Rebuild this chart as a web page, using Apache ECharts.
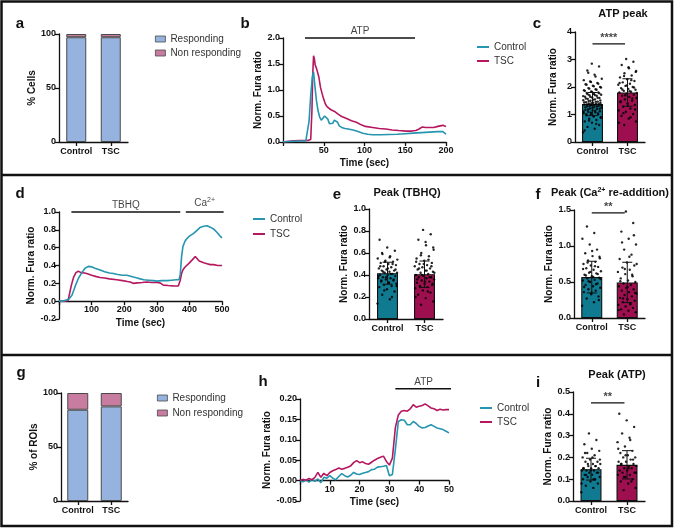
<!DOCTYPE html>
<html>
<head>
<meta charset="utf-8">
<script src="https://cdn.jsdelivr.net/npm/echarts@6/dist/echarts.min.js"></script>
<style>
  html, body { margin: 0; padding: 0; background: #fff; }
  #main { width: 676px; height: 528px; }
</style>
</head>
<body>
<div id="main"></div>
<script>
"use strict";

// ---------- data ----------
var groups = ["Control", "TSC"];

// a / g: % responding
var aResponding = [97, 97];
var aNonResponding = [3, 3];
var gResponding = [84.5, 87.6];
var gNonResponding = [15.5, 12.4];

// b: ATP traces [time (sec), norm. ratio]
var bControl = [[0,0],[5,0.01],[10,0.01],[15,0.015],[20,0.02],[25,0.02],[28,0.02],[30,0.05],[32,0.4],[34,0.9],[36,1.25],[37.5,1.35],[39,1.1],[41,0.8],[43,0.6],[45,0.48],[47,0.42],[49,0.45],[51,0.5],[53,0.52],[55,0.44],[57,0.35],[59,0.33],[61,0.36],[63,0.42],[65,0.44],[67,0.38],[69,0.31],[72,0.28],[76,0.26],[80,0.25],[86,0.23],[92,0.2],[98,0.17],[104,0.15],[110,0.14],[120,0.14],[130,0.145],[140,0.15],[150,0.16],[160,0.17],[170,0.18],[180,0.19],[190,0.2],[196,0.2],[198,0.18],[200,0.15]];
var bTsc = [[0,0],[10,0.02],[20,0.03],[30,0.03],[34,0.05],[35.5,0.6],[36.5,1.3],[37.5,1.66],[38.5,1.6],[39.5,1.48],[41,1.42],[42.5,1.45],[44,1.25],[46,1.05],[48,0.93],[50,0.82],[52,0.73],[54,0.68],[57,0.64],[60,0.61],[64,0.58],[68,0.53],[72,0.49],[78,0.45],[84,0.41],[90,0.38],[96,0.33],[101,0.3],[110,0.28],[118,0.26],[126,0.25],[134,0.23],[142,0.22],[151,0.21],[158,0.21],[163,0.22],[167,0.25],[171,0.29],[175,0.28],[180,0.28],[185,0.28],[190,0.3],[196,0.32],[200,0.3]];

// c: ATP peak
var cMean = [1.38, 1.80];
var cSd = [0.42, 0.5];
var cControlDots = [0.35,0.48,0.55,0.62,0.7,0.75,0.8,0.85,0.9,0.93,0.97,1.0,1.02,1.05,1.08,1.1,1.12,1.15,1.17,1.2,1.22,1.25,1.27,1.3,1.32,1.34,1.36,1.38,1.4,1.42,1.43,1.45,1.47,1.5,1.52,1.55,1.57,1.6,1.62,1.65,1.68,1.7,1.72,1.75,1.78,1.8,1.84,1.88,1.92,1.96,2.0,2.05,2.1,2.15,2.2,2.3,2.45,2.6,2.75,2.85,
  0.42,0.66,0.78,0.88,0.95,1.01,1.04,1.07,1.11,1.14,1.18,1.21,1.24,1.26,1.29,1.31,1.33,1.35,1.37,1.39,1.41,1.44,1.46,1.49,1.51,1.54,1.58,1.61,1.64,1.67,1.71,1.74,1.77,1.82,1.86,1.9,1.94,1.98,2.03,2.08,2.12,2.18,2.25,2.38,2.52];
var cTscDots = [0.62,0.75,0.85,0.95,1.02,1.1,1.15,1.22,1.28,1.35,1.4,1.45,1.5,1.55,1.6,1.64,1.68,1.72,1.76,1.8,1.83,1.86,1.9,1.93,1.96,2.0,2.04,2.08,2.12,2.17,2.22,2.28,2.35,2.42,2.5,2.58,2.68,2.8,2.92,3.02,
  0.7,0.9,1.05,1.18,1.32,1.48,1.58,1.7,1.78,1.85,1.91,1.98,2.06,2.15,2.25,2.4,2.55,2.72];

// d: TBHQ then Ca2+ re-addition
var dControl = [[0,0],[10,0],[20,0.01],[30,0.02],[36,0.03],[40,0.07],[50,0.17],[60,0.26],[70,0.32],[80,0.37],[90,0.39],[100,0.385],[110,0.37],[126,0.35],[140,0.33],[155,0.315],[167,0.31],[180,0.3],[195,0.29],[208,0.29],[220,0.28],[228,0.27],[240,0.26],[249,0.25],[260,0.24],[275,0.235],[290,0.23],[300,0.225],[315,0.23],[331,0.23],[345,0.235],[360,0.24],[368,0.24],[372,0.3],[376,0.5],[380,0.61],[386,0.67],[392,0.7],[400,0.73],[413,0.76],[425,0.8],[434,0.83],[444,0.84],[454,0.845],[464,0.83],[474,0.81],[485,0.77],[494,0.73],[500,0.71]];
var dTsc = [[0,0],[10,0],[20,0],[28,0.01],[31,0.03],[38,0.18],[45,0.27],[52,0.32],[59,0.335],[68,0.32],[78,0.315],[85,0.31],[100,0.29],[115,0.275],[126,0.265],[140,0.26],[155,0.25],[177,0.24],[195,0.23],[210,0.22],[218,0.215],[228,0.2],[240,0.205],[255,0.21],[269,0.215],[285,0.21],[300,0.21],[310,0.205],[316,0.185],[320,0.18],[335,0.175],[350,0.172],[366,0.17],[370,0.18],[372,0.235],[376,0.31],[380,0.35],[386,0.38],[392,0.4],[400,0.43],[408,0.46],[413,0.48],[418,0.5],[424,0.48],[430,0.45],[434,0.44],[444,0.43],[454,0.42],[464,0.41],[474,0.41],[487,0.4],[500,0.4]];

// e: Peak (TBHQ)
var eMean = [0.416, 0.407];
var eSd = [0.1, 0.12];
var eControlDots = [0.14,0.18,0.22,0.25,0.27,0.29,0.3,0.31,0.32,0.33,0.34,0.35,0.36,0.37,0.37,0.38,0.39,0.4,0.4,0.41,0.42,0.42,0.43,0.44,0.44,0.45,0.46,0.47,0.48,0.49,0.5,0.51,0.52,0.53,0.55,0.57,0.59,0.62,0.65,0.72,
  0.2,0.26,0.3,0.33,0.35,0.36,0.38,0.39,0.41,0.43,0.45,0.46,0.48,0.5,0.52,0.54,0.56,0.6];
var eTscDots = [0.13,0.16,0.19,0.22,0.24,0.26,0.28,0.29,0.3,0.31,0.32,0.33,0.34,0.35,0.36,0.37,0.38,0.38,0.39,0.4,0.41,0.42,0.43,0.44,0.45,0.46,0.47,0.48,0.49,0.5,0.51,0.53,0.55,0.57,0.6,0.63,0.67,0.72,0.77,0.81,
  0.2,0.25,0.29,0.32,0.34,0.36,0.38,0.4,0.42,0.44,0.46,0.48,0.5,0.52,0.54,0.58,0.65,0.7];

// f: Peak (Ca2+ re-addition)
var fMean = [0.568, 0.494];
var fSd = [0.22, 0.28];
var fControlDots = [0.17,0.22,0.27,0.3,0.33,0.36,0.38,0.4,0.42,0.44,0.46,0.48,0.5,0.52,0.53,0.55,0.56,0.58,0.6,0.62,0.63,0.65,0.67,0.69,0.71,0.73,0.75,0.78,0.8,0.83,0.86,0.9,0.95,1.02,1.1,1.18,1.27,
  0.25,0.35,0.43,0.47,0.51,0.54,0.57,0.59,0.61,0.64,0.68,0.72,0.77,0.85,0.93];
var fTscDots = [0.05,0.08,0.1,0.12,0.14,0.16,0.18,0.2,0.22,0.24,0.26,0.28,0.3,0.32,0.34,0.36,0.38,0.4,0.42,0.44,0.46,0.48,0.5,0.52,0.55,0.58,0.61,0.64,0.67,0.7,0.73,0.77,0.82,0.88,0.95,1.02,1.1,1.2,1.32,1.48,
  0.11,0.19,0.27,0.35,0.43,0.51,0.6,0.68,0.75,0.85,1.05,1.15];

// h: ATP traces (ROIs)
var hTime = [0,1,2,3,4,5,6,7,8,9,10,11,12,13,14,15,16,17,18,19,20,21,22,23,24,25,26,27,28,29,30,31,32,33,34,35,36,37,38,39,40,41,42,43,44,45,46,47,48,49,50];
var hControl = [0,-0.003,0.002,-0.004,0.003,-0.002,0.004,-0.005,0.008,0.006,0.012,0.006,0.002,0.01,0.017,0.012,0.009,0.013,0.02,0.016,0.015,0.018,0.02,0.022,0.027,0.028,0.033,0.034,0.035,0.037,0.012,0.015,0.076,0.145,0.149,0.148,0.137,0.137,0.145,0.14,0.133,0.129,0.13,0.134,0.137,0.133,0.129,0.127,0.125,0.121,0.117];
var hTsc = [0,0.003,0.001,0.005,0.002,0.008,0.02,0.008,0.018,0.012,0.02,0.024,0.027,0.031,0.028,0.03,0.033,0.036,0.044,0.049,0.044,0.046,0.042,0.04,0.045,0.05,0.054,0.057,0.06,0.047,0.038,0.055,0.13,0.161,0.17,0.172,0.17,0.176,0.186,0.18,0.182,0.184,0.188,0.183,0.178,0.176,0.172,0.175,0.173,0.174,0.174];

// i: Peak (ATP)
var iMean = [0.146, 0.166];
var iSd = [0.05, 0.065];
var iControlDots = [0.04,0.06,0.07,0.08,0.09,0.1,0.1,0.11,0.11,0.12,0.12,0.13,0.13,0.14,0.14,0.14,0.15,0.15,0.15,0.16,0.16,0.17,0.17,0.18,0.18,0.19,0.2,0.21,0.22,0.23,0.24,0.26,0.28,0.31,
  0.08,0.1,0.12,0.13,0.14,0.15,0.16,0.17,0.19,0.2,0.22];
var iTscDots = [0.05,0.06,0.08,0.09,0.1,0.11,0.12,0.12,0.13,0.13,0.14,0.14,0.15,0.15,0.16,0.16,0.17,0.17,0.18,0.18,0.19,0.2,0.2,0.21,0.22,0.23,0.25,0.27,0.29,0.31,0.34,0.37,0.4,
  0.09,0.11,0.13,0.15,0.17,0.19,0.21,0.24,0.28];

// ---------- styles ----------
var FONT = "Liberation Sans";
var INK = "#111";
var TEAL_LINE = "#2595b0", CRIM_LINE = "#b5185f";
var TEAL_BAR = "#107a90", CRIM_BAR = "#9d0f4e";
var BLUE = "#95b3de", PINK = "#c77ca0";

var grids = [], xAxes = [], yAxes = [], series = [], legends = [], graphics = [];

function tickLabel(extra) {
  return Object.assign({ color: INK, fontFamily: FONT, fontWeight: "bold", fontSize: 9 }, extra || {});
}
function axisLine(onZero) {
  return { show: true, onZero: onZero, lineStyle: { color: INK, width: 1.3 } };
}
function axisTick() {
  return { show: true, length: 4, lineStyle: { color: INK, width: 1.3 } };
}
var nameStyle = { color: INK, fontFamily: FONT, fontWeight: "bold", fontSize: 10 };

function addGrid(box) {
  grids.push({ left: box[0], top: box[1], width: box[2], height: box[3] });
  return grids.length - 1;
}
function addY(gi, min, max, interval, digits, name, gap, onZero) {
  yAxes.push({
    gridIndex: gi, type: "value", min: min, max: max, interval: interval,
    axisLine: axisLine(onZero), axisTick: axisTick(), splitLine: { show: false },
    axisLabel: tickLabel({ margin: 3, formatter: function (v) { return digits == null ? v : v.toFixed(digits); } }),
    name: name, nameLocation: "middle", nameGap: gap, nameTextStyle: nameStyle,
  });
  return yAxes.length - 1;
}
function addCatX(gi) {
  xAxes.push({
    gridIndex: gi, type: "category", data: groups,
    axisLine: axisLine(false), axisTick: Object.assign(axisTick(), { alignWithLabel: true }),
    axisLabel: tickLabel({ margin: 5, interval: 0, hideOverlap: false }),
  });
  return xAxes.length - 1;
}
function addHiddenX(gi) {
  xAxes.push({ gridIndex: gi, type: "value", min: -0.5, max: 1.5, show: false });
  return xAxes.length - 1;
}
// labelMargin / gap are measured from the grid bottom
function addValX(gi, min, max, interval, labelMargin, gap) {
  xAxes.push({
    gridIndex: gi, type: "value", min: min, max: max, interval: interval,
    axisLine: axisLine(true), axisTick: axisTick(), splitLine: { show: false },
    axisLabel: tickLabel({ margin: labelMargin, formatter: function (v) { return v === 0 ? "" : v; } }),
    name: "Time (sec)", nameLocation: "middle", nameGap: gap, nameTextStyle: nameStyle,
  });
  return xAxes.length - 1;
}

function addStacked(xi, yi, resp, nonResp, width) {
  var common = { type: "bar", xAxisIndex: xi, yAxisIndex: yi, stack: "s" + xi, barWidth: width, silent: true };
  series.push(Object.assign({ name: "Responding", data: resp,
    itemStyle: { color: BLUE, borderColor: "#4a4a4a", borderWidth: 1 } }, common));
  series.push(Object.assign({ name: "Non responding", data: nonResp,
    itemStyle: { color: PINK, borderColor: "#4a4a4a", borderWidth: 1 } }, common));
}

function addTrace(xi, yi, name, data, color) {
  series.push({
    type: "line", name: name, xAxisIndex: xi, yAxisIndex: yi, data: data,
    showSymbol: false, symbol: "none", silent: true,
    lineStyle: { color: color, width: 1.6 }, itemStyle: { color: color },
  });
}

function addBracket(xi, yi, x0, x1, y, text, bold, size, dist) {
  series.push({
    type: "line", xAxisIndex: xi, yAxisIndex: yi, data: [[x0, y], [x1, y]],
    symbol: "none", clip: false, silent: true, z: 6,
    lineStyle: { color: INK, width: 1.4 },
  });
  series.push({
    type: "scatter", xAxisIndex: xi, yAxisIndex: yi, data: [[(x0 + x1) / 2, y]],
    symbolSize: 0, clip: false, silent: true, z: 6,
    label: {
      show: true, position: "top", distance: dist, formatter: text,
      color: INK, fontFamily: FONT, fontSize: size, fontWeight: bold ? "bold" : "normal",
      rich: { s: { fontSize: 7, fontFamily: FONT, color: INK, verticalAlign: "bottom", padding: [0, 0, 6, 0] } },
    },
  });
}

function jitter(i) {
  return ((i * 0.618034) % 1 - 0.5) * 0.54;
}

function addDotPanel(box, max, interval, digits, gap, means, sds, dotsC, dotsT) {
  var gi = addGrid(box);
  var xc = addCatX(gi);
  var xv = addHiddenX(gi);
  var yi = addY(gi, 0, max, interval, digits, "Norm. Fura ratio", gap, false);
  series.push({
    type: "bar", xAxisIndex: xc, yAxisIndex: yi, barWidth: 21, silent: true,
    data: [{ value: means[0], itemStyle: { color: TEAL_BAR } }, { value: means[1], itemStyle: { color: CRIM_BAR } }],
    itemStyle: { borderColor: INK, borderWidth: 1.1 },
  });
  var pts = dotsC.map(function (v, i) { return [jitter(i), v]; })
    .concat(dotsT.map(function (v, i) { return [1 + jitter(i + 7), v]; }));
  series.push({
    type: "scatter", xAxisIndex: xv, yAxisIndex: yi, data: pts, symbolSize: 2.4, silent: true, z: 4,
    itemStyle: { color: "#000", opacity: 0.85 },
  });
  series.push({
    type: "custom", xAxisIndex: xv, yAxisIndex: yi, silent: true, z: 5,
    data: [[0, means[0], sds[0]], [1, means[1], sds[1]]],
    renderItem: function (params, api) {
      var x = api.value(0), m = api.value(1), s = api.value(2);
      var top = api.coord([x, m + s]), bot = api.coord([x, m - s]);
      var st = { stroke: INK, lineWidth: 1 };
      return {
        type: "group",
        children: [
          { type: "line", shape: { x1: top[0], y1: top[1], x2: bot[0], y2: bot[1] }, style: st },
          { type: "line", shape: { x1: top[0] - 5, y1: top[1], x2: top[0] + 5, y2: top[1] }, style: st },
          { type: "line", shape: { x1: bot[0] - 5, y1: bot[1], x2: bot[0] + 5, y2: bot[1] }, style: st },
        ],
      };
    },
  });
  return { x: xv, y: yi };
}

function addText(x, y, text, size, weight, vAlign, rich) {
  graphics.push({
    type: "text", x: x, y: y, silent: true,
    style: {
      text: text, fill: INK, fontFamily: FONT, fontSize: size, fontWeight: weight,
      align: "center", verticalAlign: vAlign, textAlign: "center", textVerticalAlign: vAlign,
      rich: rich || {},
    },
  });
}

var legendText = { fontFamily: FONT, fontSize: 10, color: "#333", lineHeight: 12 };
function addLegend(left, top, gap, items) {
  legends.push({
    left: left, top: top, orient: "vertical", itemGap: gap, selectedMode: false,
    itemWidth: items.w, itemHeight: items.h, textStyle: legendText, data: items.data,
  });
}
var sqLegend = { w: 10, h: 6, data: [
  { name: "Responding", icon: "rect", itemStyle: { color: BLUE, borderColor: "#4a4a4a", borderWidth: 0.8 } },
  { name: "Non responding", icon: "rect", itemStyle: { color: PINK, borderColor: "#4a4a4a", borderWidth: 0.8 } },
] };
var lineLegend = { w: 12, h: 2, data: [
  { name: "Control", icon: "rect", itemStyle: { color: TEAL_LINE, borderWidth: 0 } },
  { name: "TSC", icon: "rect", itemStyle: { color: CRIM_LINE, borderWidth: 0 } },
] };

// ---------- panel a ----------
var ga = addGrid([59, 34, 69, 108]);
addStacked(addCatX(ga), addY(ga, 0, 100, 50, null, "% Cells", 20, false), aResponding, aNonResponding, 20);
addLegend(150, 28, 2, sqLegend);

// ---------- panel b ----------
var gb = addGrid([283, 38, 163, 104]);
var xb = addValX(gb, 0, 200, 50, 4, 16);
var yb = addY(gb, 0, 2, 0.5, 1, "Norm. Fura ratio", 17, true);
addTrace(xb, yb, "TSC", bTsc, CRIM_LINE);
addTrace(xb, yb, "Control", bControl, TEAL_LINE);
addBracket(xb, yb, 27, 162, 2.0, "ATP", false, 10, 2);
addLegend(472, 36, 2, lineLegend);

// ---------- panel c ----------
var pc = addDotPanel([575, 32, 70, 110], 4, 1, null, 17, cMean, cSd, cControlDots, cTscDots);
addBracket(pc.x, pc.y, 0, 0.93, 3.57, "****", true, 11, 0);

// ---------- panel d ----------
var gd = addGrid([59, 212, 163, 107]);
var xd = addValX(gd, 0, 500, 100, -14, -1);
var yd = addY(gd, -0.2, 1.0, 0.2, 1, "Norm. Fura ratio", 20, true);
addTrace(xd, yd, "TSC", dTsc, CRIM_LINE);
addTrace(xd, yd, "Control", dControl, TEAL_LINE);
addBracket(xd, yd, 38, 372, 1.0, "TBHQ", false, 10, 2);
addBracket(xd, yd, 389, 505, 1.0, "Ca{s|2+}", false, 10, 2);
addLegend(248, 208, 3, lineLegend);

// ---------- panel e ----------
addDotPanel([369, 209, 74, 110], 1.0, 0.2, 1, 17, eMean, eSd, eControlDots, eTscDots);

// ---------- panel f ----------
var pf = addDotPanel([574, 210, 71, 108], 1.5, 0.5, 1, 19, fMean, fSd, fControlDots, fTscDots);
addBracket(pf.x, pf.y, 0, 0.93, 1.46, "**", true, 11, 0);

// ---------- panel g ----------
var gg = addGrid([61, 393, 67, 108]);
addStacked(addCatX(gg), addY(gg, 0, 100, 50, null, "% of ROIs", 21, false), gResponding, gNonResponding, 21);
addLegend(152, 387, 3, sqLegend);

// ---------- panel h ----------
var gh = addGrid([300, 399, 149, 102]);
var xh = addValX(gh, 0, 50, 10, -16, -4);
var yh = addY(gh, -0.05, 0.2, 0.05, 2, "Norm. Fura ratio", 25, true);
addTrace(xh, yh, "Control", hTime.map(function (t, k) { return [t, hControl[k]]; }), TEAL_LINE);
addTrace(xh, yh, "TSC", hTime.map(function (t, k) { return [t, hTsc[k]]; }), CRIM_LINE);
addBracket(xh, yh, 32, 51, 0.225, "ATP", false, 10, 2);
addLegend(475, 397, 2, lineLegend);

// ---------- panel i ----------
var pi = addDotPanel([573, 392, 72, 109], 0.5, 0.1, 1, 18, iMean, iSd, iControlDots, iTscDots);
addBracket(pi.x, pi.y, 0, 0.93, 0.45, "**", true, 11, 0);

// ---------- letters, titles, frame ----------
var sup = { s: { fontSize: 7, fontWeight: "bold", fontFamily: FONT, fill: INK, verticalAlign: "bottom", padding: [0, 0, 6, 0] } };
[["a", 20, 31], ["b", 245, 31], ["c", 537, 31], ["d", 20, 201], ["e", 337, 202], ["f", 538, 202],
 ["g", 21, 380], ["h", 263, 389], ["i", 538, 390]].forEach(function (l) {
  addText(l[1], l[2], l[0], 15, "bold", "bottom");
});
addText(623, 14, "ATP peak", 11, "bold", "middle");
addText(407, 193, "Peak (TBHQ)", 11, "bold", "middle");
addText(610, 193, "Peak (Ca{s|2+} re-addition)", 11, "bold", "middle", sup);
addText(617, 375, "Peak (ATP)", 11, "bold", "middle");

graphics.push({ type: "rect", silent: true, shape: { x: 1.5, y: 1.5, width: 670.5, height: 524.5 },
  style: { fill: "none", stroke: INK, lineWidth: 2.5 } });
[175, 355].forEach(function (y) {
  graphics.push({ type: "line", silent: true, shape: { x1: 1.5, y1: y, x2: 672, y2: y },
    style: { stroke: INK, lineWidth: 2.5 } });
});

var chart = echarts.init(document.getElementById("main"), null, { renderer: "canvas" });
chart.setOption({
  animation: false,
  backgroundColor: "#fff",
  grid: grids,
  xAxis: xAxes,
  yAxis: yAxes,
  legend: legends,
  series: series,
  graphic: graphics,
});
</script>
</body>
</html>
